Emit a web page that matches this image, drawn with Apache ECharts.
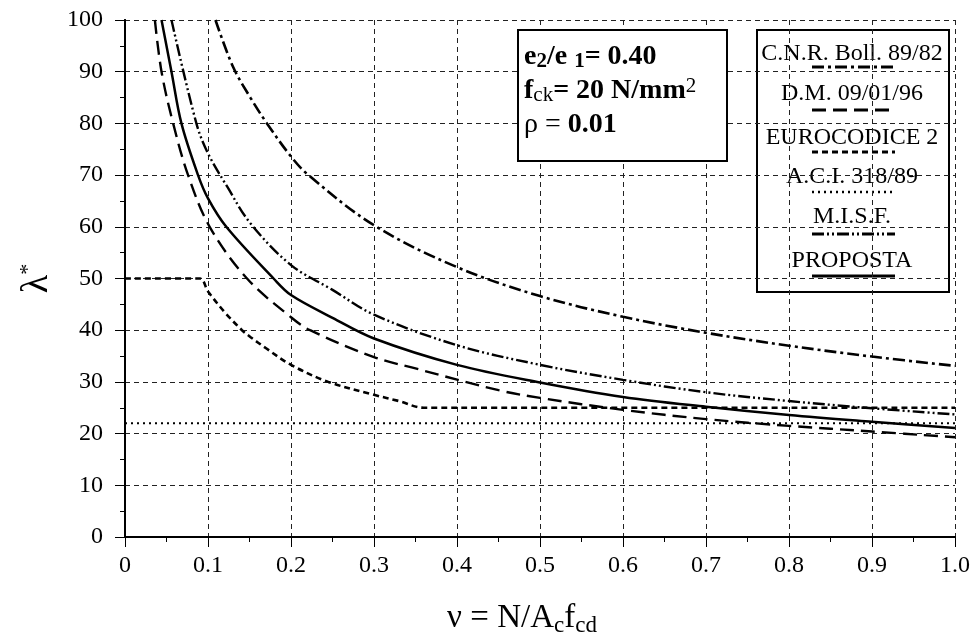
<!DOCTYPE html>
<html>
<head>
<meta charset="utf-8">
<script src="https://cdn.jsdelivr.net/npm/echarts@6/dist/echarts.min.js"></script>
<style>
  html, body { margin: 0; padding: 0; background: #fff; }
  #main { width: 972px; height: 637px; }
</style>
</head>
<body>
<div id="main"></div>
<script>
// curve values (nu -> lambda*)
const nuCnr = [0.109, 0.13, 0.151, 0.171, 0.2, 0.221, 0.3, 0.4, 0.5, 0.6, 0.7, 0.8, 0.9, 1.0];
const lamCnr = [100, 91, 85, 80, 73.6, 70, 60.3, 52.2, 46.6, 42.6, 39.5, 37, 34.9, 33.1];

const nuDm = [0.036, 0.044, 0.058, 0.076, 0.102, 0.147, 0.2, 0.223, 0.3, 0.35, 0.45, 0.5, 0.6, 0.7, 0.8, 0.9, 1.0];
const lamDm = [100, 90, 80, 70, 60, 50, 42.5, 40, 34.8, 32.6, 28.4, 26.9, 24.6, 22.8, 21.5, 20.4, 19.3];

const nuEc2 = [0, 0.09, 0.1, 0.12, 0.141, 0.151, 0.17, 0.2, 0.245, 0.3, 0.33, 0.36, 1.0];
const lamEc2 = [50, 50, 47.5, 43.5, 40, 38.7, 36.5, 33.3, 30, 27.5, 26.3, 25, 25];

const nuAci = [0, 1.0];
const lamAci = [22, 22];

const nuMisf = [0.056, 0.086, 0.1, 0.123, 0.151, 0.2, 0.25, 0.3, 0.4, 0.5, 0.6, 0.7, 0.8, 0.9, 1.0];
const lamMisf = [100, 80, 74.2, 67.8, 60.7, 52.6, 47.8, 43, 37.1, 33.3, 30.4, 28, 26.3, 24.9, 23.7];

const nuProp = [0.044, 0.056, 0.068, 0.088, 0.1, 0.122, 0.179, 0.2, 0.25, 0.3, 0.4, 0.5, 0.6, 0.7, 0.8, 0.9, 1.0];
const lamProp = [100, 90, 80, 70, 65.5, 60, 50, 46.8, 42.4, 38.4, 33.3, 29.9, 27.1, 25.2, 23.6, 22.3, 21.1];

const legendNames = ['C.N.R. Boll. 89/82', 'D.M. 09/01/96', 'EUROCODICE 2', 'A.C.I. 318/89', 'M.I.S.F.', 'PROPOSTA'];
const lineDashes = [[12, 4, 3, 4], [14, 7], [6, 4], [2, 4], [12, 3, 2, 3, 2, 3], null];
const lineWidths = [2.6, 2.4, 2.6, 2, 2.4, 2.5];

const FONT = 'Liberation Serif, Times New Roman, serif';

function pairs(xs, ys) {
  return xs.map((x, i) => [x, ys[i]]);
}

const curves = [
  pairs(nuCnr, lamCnr),
  pairs(nuDm, lamDm),
  pairs(nuEc2, lamEc2),
  pairs(nuAci, lamAci),
  pairs(nuMisf, lamMisf),
  pairs(nuProp, lamProp)
];

let chart = echarts.init(document.getElementById('main'));

let series = curves.map(function (data, i) {
  return {
    name: legendNames[i],
    type: 'line',
    data: data,
    showSymbol: false,
    smooth: i === 3 ? false : 0.35,
    lineStyle: {
      color: '#000',
      width: lineWidths[i],
      type: lineDashes[i] || 'solid'
    },
    z: 3
  };
});

// legend drawn by hand: name above, line sample below
let legendItems = [];
const legendTextY = [54, 94, 138, 177, 217, 261];
const legendLineY = [67, 110, 152, 192, 234, 276];
legendNames.forEach(function (n, i) {
  legendItems.push({
    type: 'text',
    x: 852, y: legendTextY[i],
    style: { text: n, font: '24px ' + FONT, fill: '#000', align: 'center', verticalAlign: 'middle' }
  });
  legendItems.push({
    type: 'line',
    shape: { x1: 812, y1: legendLineY[i], x2: 895, y2: legendLineY[i] },
    style: { stroke: '#000', lineWidth: lineWidths[i] + 0.5, lineDash: lineDashes[i] || null }
  });
});

const gridDash = { type: [5, 4], color: '#222', width: 1 };

chart.setOption({
  animation: false,
  backgroundColor: '#fff',
  grid: { left: 125, right: 17, top: 20, bottom: 100, outerBoundsMode: 'none', containLabel: false },
  xAxis: [{
    type: 'value',
    min: 0, max: 1, interval: 0.1,
    name: '{t|ν = N/A}{s|c}{t|f}{s|cd}',
    nameLocation: 'middle',
    nameGap: 62,
    nameTextStyle: {
      padding: [0, 36, 0, 0],
      rich: {
        t: { fontFamily: FONT, fontSize: 33, color: '#000', lineHeight: 38 },
        s: { fontFamily: FONT, fontSize: 23, color: '#000', lineHeight: 14, verticalAlign: 'bottom' }
      }
    },
    axisLine: { lineStyle: { color: '#000', width: 2 } },
    axisTick: { length: 10, lineStyle: { color: '#000', width: 1 } },
    minorTick: { show: true, splitNumber: 2, length: 5, lineStyle: { color: '#000', width: 1 } },
    axisLabel: {
      fontFamily: FONT, fontSize: 24, color: '#000', margin: 17,
      formatter: function (v) { return v === 0 ? '0' : v.toFixed(1); }
    },
    splitLine: { show: true, lineStyle: gridDash }
  }, {
    type: 'value',
    position: 'top',
    min: 0, max: 1, interval: 0.1,
    axisLine: { lineStyle: { color: '#000', width: 2 } },
    axisTick: { inside: true, length: 7, lineStyle: { color: '#000', width: 1 } },
    axisLabel: { show: false },
    splitLine: { show: false }
  }],
  yAxis: [{
    type: 'value',
    min: 0, max: 100, interval: 10,
    name: '{t|λ}{p|*}',
    nameLocation: 'middle',
    nameGap: 66,
    nameTextStyle: {
      rich: {
        t: { fontFamily: FONT, fontSize: 38, color: '#000', lineHeight: 40 },
        p: { fontFamily: FONT, fontSize: 22, color: '#000', lineHeight: 14, verticalAlign: 'top' }
      }
    },
    axisLine: { lineStyle: { color: '#000', width: 2 } },
    axisTick: { length: 10, lineStyle: { color: '#000', width: 1 } },
    minorTick: { show: true, splitNumber: 2, length: 5, lineStyle: { color: '#000', width: 1 } },
    axisLabel: { fontFamily: FONT, fontSize: 24, color: '#000', margin: 22 },
    splitLine: { show: true, lineStyle: gridDash }
  }, {
    type: 'value',
    position: 'right',
    min: 0, max: 100, interval: 10,
    axisLine: { show: true, lineStyle: { color: '#000', width: 2 } },
    axisTick: { show: true, inside: true, length: 6, lineStyle: { color: '#000', width: 1 } },
    axisLabel: { show: false },
    splitLine: { show: false }
  }],
  series: series,
  graphic: [
    {
      type: 'rect',
      shape: { x: 518, y: 30, width: 209, height: 131 },
      style: { fill: '#fff', stroke: '#000', lineWidth: 2 },
      z: 10
    },
    {
      type: 'text', x: 524, y: 57, z: 11,
      style: {
        text: '{b|e}{bs|2}{b|/e }{bs|1}{b|= 0.40}',
        align: 'left',
        verticalAlign: 'middle',
        rich: {
          b: { fontFamily: FONT, fontSize: 28, fontWeight: 'bold', fill: '#000', lineHeight: 30 },
          bs: { fontFamily: FONT, fontSize: 21, fontWeight: 'bold', fill: '#000', lineHeight: 12, verticalAlign: 'bottom' }
        }
      }
    },
    {
      type: 'text', x: 524, y: 91, z: 11,
      style: {
        text: '{b|f}{s|ck}{b|= 20 N/mm}{p|2}',
        align: 'left',
        verticalAlign: 'middle',
        rich: {
          b: { fontFamily: FONT, fontSize: 28, fontWeight: 'bold', fill: '#000', lineHeight: 30 },
          s: { fontFamily: FONT, fontSize: 21, fill: '#000', lineHeight: 12, verticalAlign: 'bottom' },
          p: { fontFamily: FONT, fontSize: 21, fill: '#000', lineHeight: 16, verticalAlign: 'top' }
        }
      }
    },
    {
      type: 'text', x: 524, y: 125, z: 11,
      style: {
        text: '{n|ρ = }{b|0.01}',
        align: 'left',
        verticalAlign: 'middle',
        rich: {
          n: { fontFamily: FONT, fontSize: 28, fill: '#000', lineHeight: 30 },
          b: { fontFamily: FONT, fontSize: 28, fontWeight: 'bold', fill: '#000', lineHeight: 30 }
        }
      }
    },
    {
      type: 'group',
      z: 10,
      children: [{
        type: 'rect',
        shape: { x: 757, y: 30, width: 192, height: 262 },
        style: { fill: '#fff', stroke: '#000', lineWidth: 2 }
      }].concat(legendItems)
    }
  ]
});
</script>
</body>
</html>
